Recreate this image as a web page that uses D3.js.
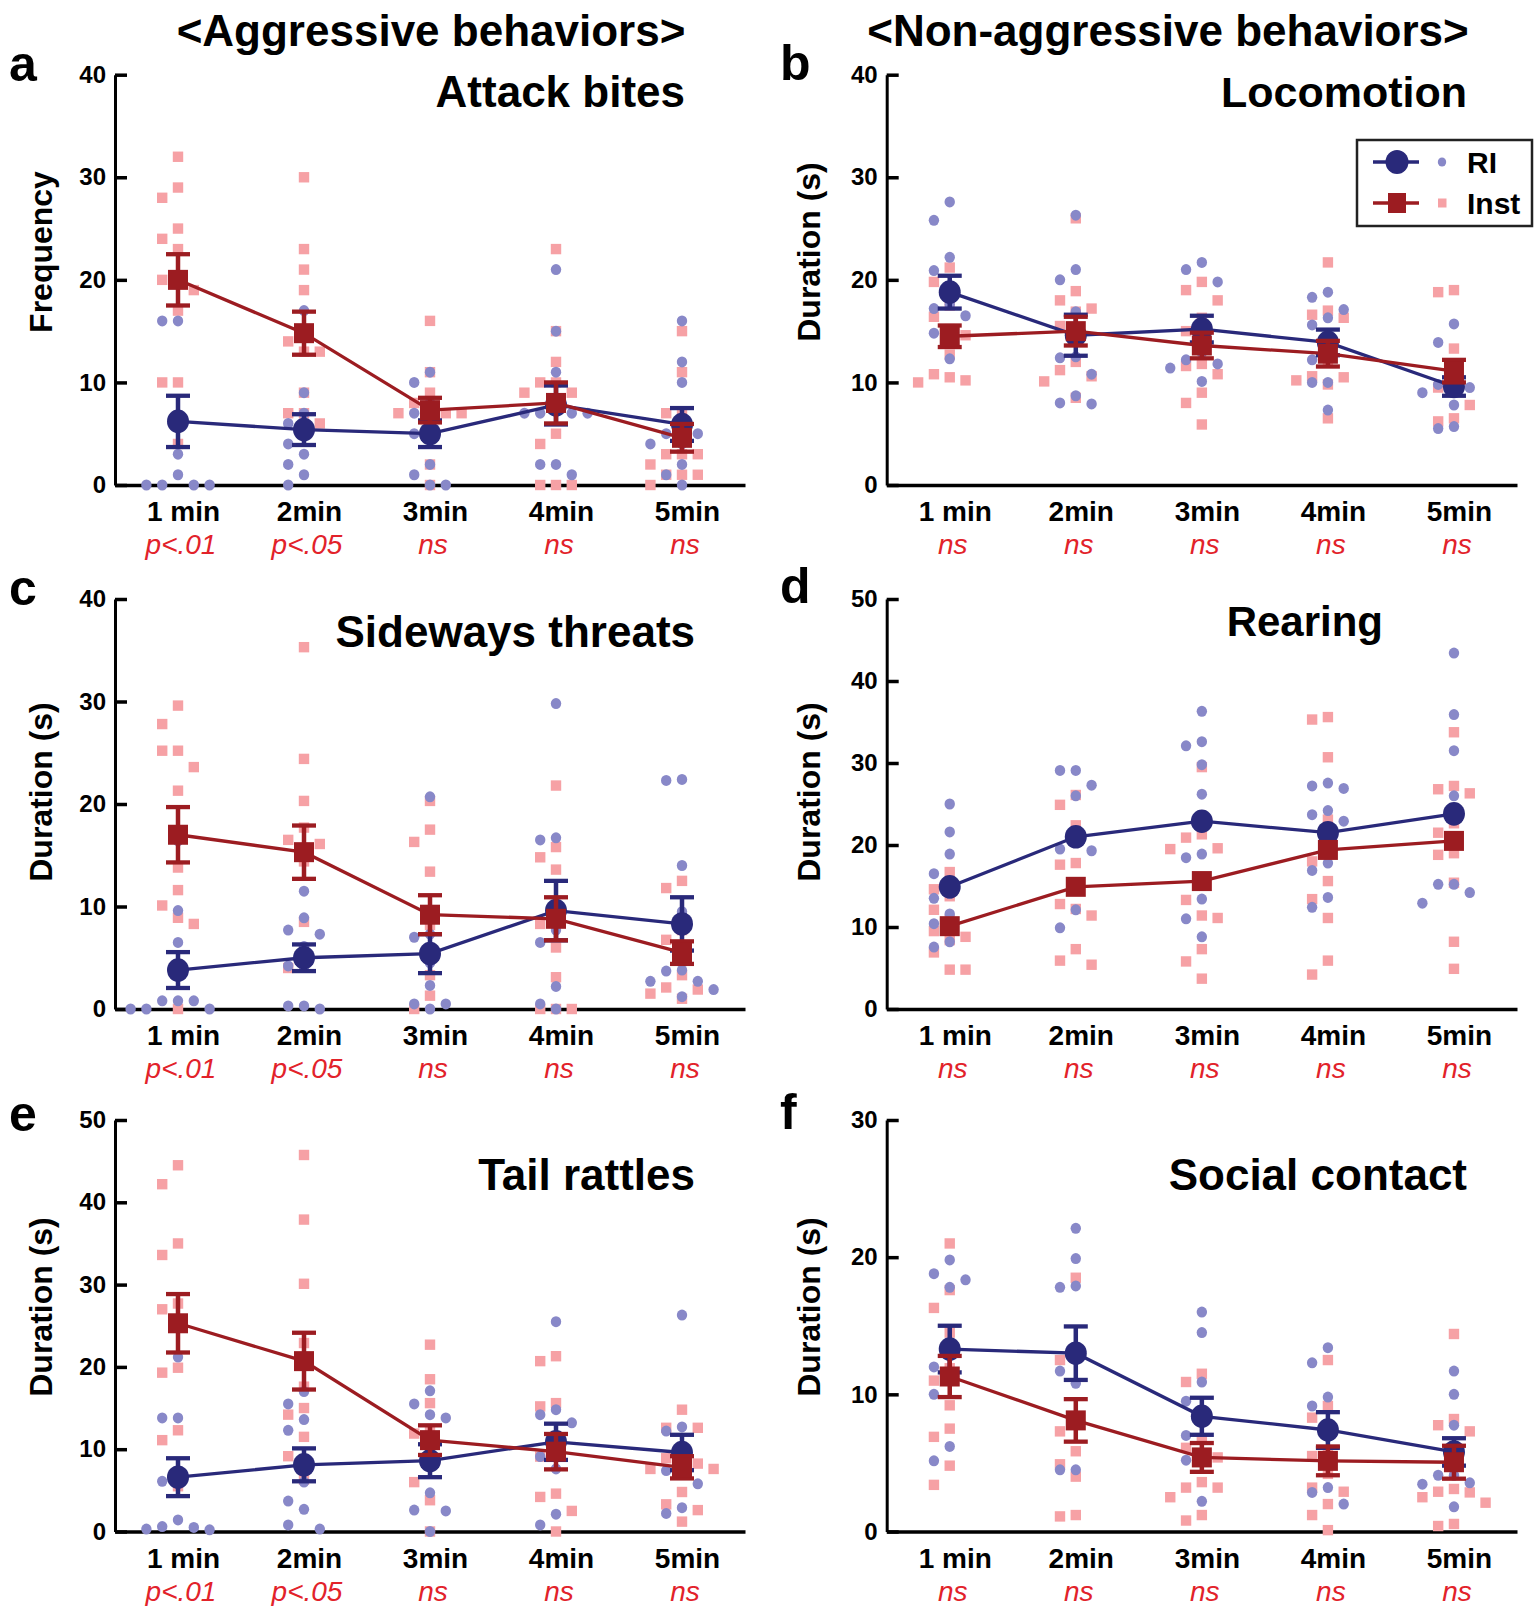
<!DOCTYPE html>
<html><head><meta charset="utf-8">
<script src="https://cdn.jsdelivr.net/npm/d3@7"></script>
<style>body{margin:0;background:#fff}svg{display:block}</style>
</head><body><svg id="chart" width="1536" height="1606"></svg>
<script>
// ---------------- DATA ----------------
const categories = ["1 min", "2min", "3min", "4min", "5min"];
const groups = ["RI", "Inst"];
const headers = ["<Aggressive behaviors>", "<Non-aggressive behaviors>"];
const panelLetters = ["a", "b", "c", "d", "e", "f"];
const panelTitles = ["Attack bites", "Locomotion", "Sideways threats", "Rearing", "Tail rattles", "Social contact"];
const yLabels = ["Frequency", "Duration (s)", "Duration (s)", "Duration (s)", "Duration (s)", "Duration (s)"];
const yTicks40 = [0, 10, 20, 30, 40];
const yTicks50 = [0, 10, 20, 30, 40, 50];
const yTicks30 = [0, 10, 20, 30];
const pAggressive = ["p<.01", "p<.05", "ns", "ns", "ns"];
const pNonAggressive = ["ns", "ns", "ns", "ns", "ns"];

// a: Attack bites
const attackRIMean = [6.2, 5.4, 5.0, 7.8, 5.9];
const attackRISem = [2.5, 1.5, 1.3, 1.9, 1.6];
const attackInstMean = [20.0, 14.8, 7.3, 8.0, 4.6];
const attackInstSem = [2.5, 2.1, 1.2, 2.0, 1.35];
const attackRIPoints = [
  [0, 0, 0, 0, 1, 3, 6, 16, 16, 20],
  [17, 9, 7, 6, 5, 4, 3, 2, 1, 0],
  [11, 10, 8, 7, 6, 5, 2, 1, 0, 0],
  [21, 15, 11, 8, 7, 7, 7, 7, 2, 2, 1],
  [16, 12, 10, 6, 5, 5, 4, 4, 2, 1, 0]];
const attackInstPoints = [
  [32, 29, 28, 25, 24, 23, 20, 20, 19, 17, 10, 10, 4],
  [30, 23, 21, 19, 15, 14, 13, 13, 9, 7, 7, 6],
  [16, 11, 9, 8, 7, 7, 7, 7, 2, 0],
  [23, 15, 12, 10, 10, 9, 9, 5, 4, 0, 0, 0],
  [15, 11, 7, 7, 3, 3, 3, 2, 1, 1, 1, 0]];

// b: Locomotion
const locoRIMean = [18.8, 14.6, 15.2, 13.9, 9.6];
const locoRISem = [1.6, 2.0, 1.3, 1.25, 0.9];
const locoInstMean = [14.5, 15.0, 13.6, 12.8, 11.1];
const locoInstSem = [1.05, 1.4, 1.25, 1.25, 1.1];
const locoRIPoints = [
  [27.6, 25.8, 22.2, 20.9, 17.6, 17.2, 16.5, 15.1, 14.8, 12.3],
  [26.3, 21.0, 20.0, 16.9, 12.5, 12.4, 10.8, 8.7, 8.0, 7.9],
  [21.7, 21.0, 19.8, 15.4, 12.9, 12.2, 11.8, 11.4, 10.1],
  [18.8, 18.3, 17.1, 16.3, 15.6, 12.7, 12.2, 10.0, 10.0, 7.3],
  [15.7, 13.9, 10.0, 9.8, 9.5, 9.0, 7.8, 5.7, 5.5]];
const locoInstPoints = [
  [21.2, 19.8, 17.5, 16.4, 15.2, 14.6, 12.7, 10.8, 10.5, 10.2, 10.0],
  [26.0, 18.9, 18.0, 17.2, 16.9, 15.5, 12.0, 11.2, 10.6, 10.1, 8.5],
  [19.8, 19.0, 18.0, 16.3, 15.0, 14.0, 11.8, 11.6, 10.8, 9.0, 8.0, 5.9],
  [21.7, 17.0, 16.6, 16.3, 12.0, 10.6, 10.5, 10.2, 9.8, 6.5],
  [19.0, 18.8, 13.3, 11.2, 9.5, 9.2, 7.8, 6.5, 6.2]];

// c: Sideways threats
const sideRIMean = [3.8, 5.0, 5.4, 9.6, 8.3];
const sideRISem = [1.75, 1.3, 1.9, 2.9, 2.6];
const sideInstMean = [17.0, 15.3, 9.2, 8.8, 5.5];
const sideInstSem = [2.7, 2.6, 1.9, 2.1, 1.1];
const sideRIPoints = [
  [16.4, 9.6, 6.5, 0.8, 0.8, 0.8, 0, 0, 0],
  [11.5, 8.9, 7.7, 7.3, 6.1, 4.2, 4.1, 0.3, 0.3, 0],
  [20.7, 7.3, 7.0, 4.5, 2.3, 0.5, 0.5, 0],
  [29.8, 16.7, 16.5, 7.7, 6.5, 2.2, 0.5, 0],
  [22.4, 22.3, 14.0, 9.5, 3.8, 3.7, 2.7, 2.7, 1.9, 1.2]];
const sideInstPoints = [
  [29.6, 27.8, 25.2, 25.2, 23.6, 21.3, 17.0, 13.8, 11.6, 10.1, 8.9, 8.3, 0],
  [35.3, 24.4, 20.3, 17.7, 16.5, 16.1, 14.4, 8.5, 4.7, 4.0],
  [20.3, 17.5, 16.3, 13.4, 8.2, 5.8, 3.3, 1.3, 0],
  [21.8, 15.8, 14.8, 13.6, 8.8, 8.3, 6.0, 3.1, 0, 0, 0],
  [12.5, 11.8, 7.7, 6.75, 5.6, 3.3, 2.1, 1.9, 1.5, 1.0]];

// d: Rearing (no error bars shown)
const rearRIMean = [14.9, 21.0, 22.9, 21.5, 23.8];
const rearInstMean = [10.1, 14.9, 15.6, 19.4, 20.5];
const rearRIPoints = [
  [25.0, 21.6, 18.9, 16.5, 14.1, 13.5, 11.6, 10.4, 8.2, 7.55],
  [29.1, 29.1, 27.3, 26.0, 21.5, 19.5, 19.3, 14.7, 12.1, 9.9],
  [36.3, 32.6, 32.1, 29.8, 26.2, 18.9, 18.45, 13.4, 11.0, 8.8],
  [27.55, 27.2, 26.9, 24.2, 23.7, 22.9, 17.8, 16.9, 13.6, 12.4],
  [43.4, 35.9, 31.5, 26.0, 21.0, 15.2, 15.2, 14.2, 12.9]];
const rearInstPoints = [
  [16.7, 14.6, 13.75, 12.1, 10.9, 9.5, 8.8, 8.4, 6.9, 4.8, 4.8],
  [26.1, 24.9, 22.4, 17.8, 17.6, 15.0, 12.8, 12.2, 11.4, 7.3, 5.9, 5.4],
  [29.5, 21.3, 20.9, 19.6, 19.5, 15.5, 13.3, 11.4, 11.1, 7.3, 5.8, 3.7],
  [35.6, 35.3, 30.7, 23.1, 19.7, 18.0, 15.6, 13.4, 11.1, 5.9, 4.2],
  [33.75, 27.2, 26.8, 26.3, 22.65, 21.5, 19.0, 18.8, 15.4, 8.2, 4.9]];

// e: Tail rattles
const tailRIMean = [6.6, 8.1, 8.6, 10.9, 9.6];
const tailRISem = [2.3, 2.0, 2.0, 2.2, 2.15];
const tailInstMean = [25.3, 20.7, 11.1, 9.7, 7.8];
const tailInstSem = [3.55, 3.45, 1.8, 2.15, 1.35];
const tailRIPoints = [
  [21.2, 13.8, 13.8, 7.35, 6.1, 1.4, 0.6, 0.5, 0.3, 0.2],
  [17.0, 15.5, 13.6, 12.3, 6.0, 3.7, 2.7, 0.8, 0.3],
  [17.1, 15.5, 14.2, 13.8, 8.1, 4.7, 2.6, 2.5, 0],
  [25.5, 14.8, 14.2, 13.2, 11.3, 9.1, 7.6, 2.1, 0.8],
  [26.3, 12.7, 12.2, 7.9, 7.4, 5.8, 2.9, 2.2]];
const tailInstPoints = [
  [44.5, 42.2, 35.0, 33.6, 27.7, 27.0, 19.9, 19.3, 12.3, 11.1, 5.5],
  [45.75, 37.9, 30.1, 22.9, 17.6, 15.0, 14.2, 11.5, 9.15, 6.3],
  [22.7, 18.5, 15.6, 12.3, 11.9, 8.25, 6.0, 3.8, 0],
  [21.3, 20.7, 15.6, 15.2, 9.1, 9.1, 4.6, 4.2, 2.5, 0],
  [14.8, 12.6, 12.6, 9.1, 8.9, 8.25, 7.6, 7.6, 4.8, 3.3, 2.6, 1.2]];

// f: Social contact
const socialRIMean = [13.3, 13.0, 8.4, 7.4, 5.8];
const socialRISem = [1.7, 1.95, 1.35, 1.3, 1.0];
const socialInstMean = [11.3, 8.1, 5.4, 5.15, 5.05];
const socialInstSem = [1.5, 1.55, 1.05, 1.05, 1.2];
const socialRIPoints = [
  [19.8, 18.8, 18.35, 17.8, 13.3, 12.0, 11.2, 10.0, 6.2, 5.15],
  [22.1, 19.9, 17.9, 17.8, 13.0, 11.7, 10.8, 7.75, 4.5, 4.5],
  [16.0, 14.5, 10.9, 9.5, 8.4, 7.0, 5.7, 5.2, 2.2],
  [13.4, 12.3, 9.8, 9.15, 7.4, 3.2, 2.85, 2.0],
  [11.7, 10.0, 7.75, 5.8, 4.1, 4.1, 3.55, 3.45, 1.8]];
const socialInstPoints = [
  [21.0, 17.6, 16.3, 14.5, 11.9, 11.0, 9.2, 7.5, 6.9, 4.8, 3.4],
  [18.5, 13.2, 12.5, 8.1, 7.3, 5.85, 4.9, 4.0, 1.2, 1.1],
  [11.5, 10.9, 8.7, 6.8, 6.1, 5.4, 3.6, 3.2, 3.2, 2.5, 1.2, 0.8],
  [12.5, 9.15, 8.3, 5.7, 5.5, 4.2, 3.2, 2.9, 2.0, 1.2, 0.1],
  [14.4, 8.2, 7.75, 7.3, 5.1, 3.1, 2.9, 2.85, 2.5, 2.1, 0.55, 0.4]];

// ---------------- PANEL TABLE ----------------
const panels = [
  {ticks: yTicks40, p: pAggressive, riM: attackRIMean, riS: attackRISem, inM: attackInstMean, inS: attackInstSem, riP: attackRIPoints, inP: attackInstPoints},
  {ticks: yTicks40, p: pNonAggressive, riM: locoRIMean, riS: locoRISem, inM: locoInstMean, inS: locoInstSem, riP: locoRIPoints, inP: locoInstPoints},
  {ticks: yTicks40, p: pAggressive, riM: sideRIMean, riS: sideRISem, inM: sideInstMean, inS: sideInstSem, riP: sideRIPoints, inP: sideInstPoints},
  {ticks: yTicks50, p: pNonAggressive, riM: rearRIMean, riS: null, inM: rearInstMean, inS: null, riP: rearRIPoints, inP: rearInstPoints},
  {ticks: yTicks50, p: pAggressive, riM: tailRIMean, riS: tailRISem, inM: tailInstMean, inS: tailInstSem, riP: tailRIPoints, inP: tailInstPoints},
  {ticks: yTicks30, p: pNonAggressive, riM: socialRIMean, riS: socialRISem, inM: socialInstMean, inS: socialInstSem, riP: socialRIPoints, inP: socialInstPoints}
];

// ---------------- LAYOUT ----------------
const FONT = "'Liberation Sans', Arial, Helvetica, sans-serif";
const COL = {ri: "#29297a", inst: "#9c1c21", riPt: "#8888c8", instPt: "#f6a1a5", red: "#e2222a", ink: "#000"};
const colX = [[115, 745], [886.7, 1517]];
const rowY = [[74.7, 485], [599, 1009], [1120, 1531.5]];
const pRowBase = [553.5, 1077.5, 1600.5];
const yLabelX = [52, 819.5];
const yLabelCY = [252, 792, 1307];
const letterPos = [[9, 81], [780, 80], [9, 605], [780, 603], [9, 1131], [780, 1129]];
const titlePos = [[685, 107], [1467, 107], [695, 647], [1383, 636], [695, 1190], [1467, 1190]];
const titleSize = [44, 43, 44, 42, 44, 44];

const svg = d3.select("#chart");

// headers
svg.append("text").attr("x", 431).attr("y", 46).attr("text-anchor", "middle")
  .attr("font-family", FONT).attr("font-weight", "bold").attr("font-size", 44).text(headers[0]);
svg.append("text").attr("x", 1168).attr("y", 46).attr("text-anchor", "middle")
  .attr("font-family", FONT).attr("font-weight", "bold").attr("font-size", 44).text(headers[1]);

function swarm(values, y, xc, step, gap) {
  const placed = [];
  const order = [0, -1, 1, -2, 2, -3, 3, -4, 4];
  return values.map((v, i) => ({v, i})).sort((a, b) => b.v - a.v).map(d => {
    const py = y(d.v);
    let s = order.find(k => !placed.some(q => q.s === k && Math.abs(q.py - py) < gap));
    if (s === undefined) s = 0;
    placed.push({s, py});
    return {x: xc + s * step, y: py};
  });
}

panels.forEach((P, idx) => {
  const col = idx % 2, row = Math.floor(idx / 2);
  const [x0, x1] = colX[col];
  const [yTop, yBot] = rowY[row];
  const yMax = P.ticks[P.ticks.length - 1];
  const x = d3.scalePoint().domain(categories).range([x0, x1]).padding(0.5);
  const y = d3.scaleLinear().domain([0, yMax]).range([yBot, yTop]);
  const g = svg.append("g");

  // panel letter
  g.append("text").attr("x", letterPos[idx][0]).attr("y", letterPos[idx][1])
    .attr("font-family", FONT).attr("font-weight", "bold").attr("font-size", 50).text(panelLetters[idx]);
  // title
  g.append("text").attr("x", titlePos[idx][0]).attr("y", titlePos[idx][1]).attr("text-anchor", "end")
    .attr("font-family", FONT).attr("font-weight", "bold").attr("font-size", titleSize[idx]).text(panelTitles[idx]);
  // y label
  g.append("text").attr("transform", `translate(${yLabelX[col]},${yLabelCY[row]}) rotate(-90)`)
    .attr("text-anchor", "middle").attr("font-family", FONT).attr("font-weight", "bold")
    .attr("font-size", 32).text(yLabels[idx]);

  // y axis
  const ya = g.append("g").attr("transform", `translate(${x0},0)`)
    .call(d3.axisLeft(y).tickValues(P.ticks).tickSize(-12).tickSizeOuter(0).tickPadding(9).tickFormat(d3.format("d")));
  ya.select(".domain").attr("stroke", COL.ink).attr("stroke-width", 3);
  ya.selectAll(".tick line").attr("stroke", COL.ink).attr("stroke-width", 3.5);
  ya.selectAll(".tick text").attr("font-family", FONT).attr("font-weight", "bold").attr("font-size", 24).attr("fill", COL.ink);

  // x axis
  const xa = g.append("g").attr("transform", `translate(0,${yBot})`)
    .call(d3.axisBottom(x).tickSize(0).tickSizeOuter(0).tickPadding(0));
  xa.select(".domain").attr("stroke", COL.ink).attr("stroke-width", 3.4);
  xa.selectAll(".tick text").attr("font-family", FONT).attr("font-weight", "bold").attr("font-size", 28)
    .attr("fill", COL.ink).attr("dy", null).attr("y", 36).attr("x", 5);

  // p-value row
  g.selectAll(".pval").data(P.p).join("text").attr("class", "pval")
    .attr("x", (d, i) => x(categories[i]) + 3).attr("y", pRowBase[row]).attr("text-anchor", "middle")
    .attr("font-family", FONT).attr("font-style", "italic").attr("font-size", 28).attr("fill", COL.red).text(d => d);

  const step = 15.8, gap = 20;
  // scatter: Inst squares then RI dots
  categories.forEach((c, i) => {
    const pts = swarm(P.inP[i], y, x(c), step, gap);
    g.selectAll(null).data(pts).join("rect")
      .attr("x", d => d.x - 5.2).attr("y", d => d.y - 5.2).attr("width", 10.4).attr("height", 10.4)
      .attr("fill", COL.instPt);
  });
  categories.forEach((c, i) => {
    const pts = swarm(P.riP[i], y, x(c), step, gap);
    g.selectAll(null).data(pts).join("ellipse")
      .attr("cx", d => d.x).attr("cy", d => d.y).attr("rx", 5.2).attr("ry", 5.5).attr("fill", COL.riPt);
  });

  function drawGroup(means, sems, color, shape) {
    const line = d3.line().x((d, i) => x(categories[i])).y(d => y(d));
    g.append("path").datum(means).attr("d", line).attr("fill", "none").attr("stroke", color).attr("stroke-width", 3.3);
    if (sems) {
      means.forEach((m, i) => {
        const cx = x(categories[i]);
        const yl = y(m - sems[i]), yh = y(m + sems[i]);
        g.append("line").attr("x1", cx).attr("x2", cx).attr("y1", yl).attr("y2", yh).attr("stroke", color).attr("stroke-width", 4.5);
        [yl, yh].forEach(yy => g.append("line").attr("x1", cx - 12).attr("x2", cx + 12).attr("y1", yy).attr("y2", yy)
          .attr("stroke", color).attr("stroke-width", 4.3));
      });
    }
    means.forEach((m, i) => {
      const cx = x(categories[i]), cy = y(m);
      if (shape === "circle") g.append("ellipse").attr("cx", cx).attr("cy", cy).attr("rx", 11).attr("ry", 11.8).attr("fill", color);
      else g.append("rect").attr("x", cx - 10).attr("y", cy - 10).attr("width", 20).attr("height", 20).attr("fill", color);
    });
  }
  drawGroup(P.riM, P.riS, COL.ri, "circle");
  drawGroup(P.inM, P.inS, COL.inst, "square");

  // legend in panel b
  if (idx === 1) {
    const lg = svg.append("g");
    lg.append("rect").attr("x", 1357).attr("y", 140).attr("width", 175).attr("height", 86)
      .attr("fill", "#fff").attr("stroke", "#222").attr("stroke-width", 2.5);
    const rowsY = [162, 203];
    groups.forEach((name, k) => {
      const cy = rowsY[k], color = k === 0 ? COL.ri : COL.inst;
      lg.append("line").attr("x1", 1373).attr("x2", 1419).attr("y1", cy).attr("y2", cy).attr("stroke", color).attr("stroke-width", 3.5);
      if (k === 0) {
        lg.append("ellipse").attr("cx", 1397).attr("cy", cy).attr("rx", 11.5).attr("ry", 12).attr("fill", color);
        lg.append("ellipse").attr("cx", 1442).attr("cy", cy).attr("rx", 4.2).attr("ry", 4.6).attr("fill", COL.riPt);
      } else {
        lg.append("rect").attr("x", 1388).attr("y", cy - 10).attr("width", 18).attr("height", 20).attr("fill", color);
        lg.append("rect").attr("x", 1438).attr("y", cy - 4.5).attr("width", 8.5).attr("height", 9).attr("fill", COL.instPt);
      }
      lg.append("text").attr("x", 1467).attr("y", cy + 11).attr("font-family", FONT).attr("font-weight", "bold")
        .attr("font-size", 30).text(name);
    });
  }
});
</script>
</body></html>
